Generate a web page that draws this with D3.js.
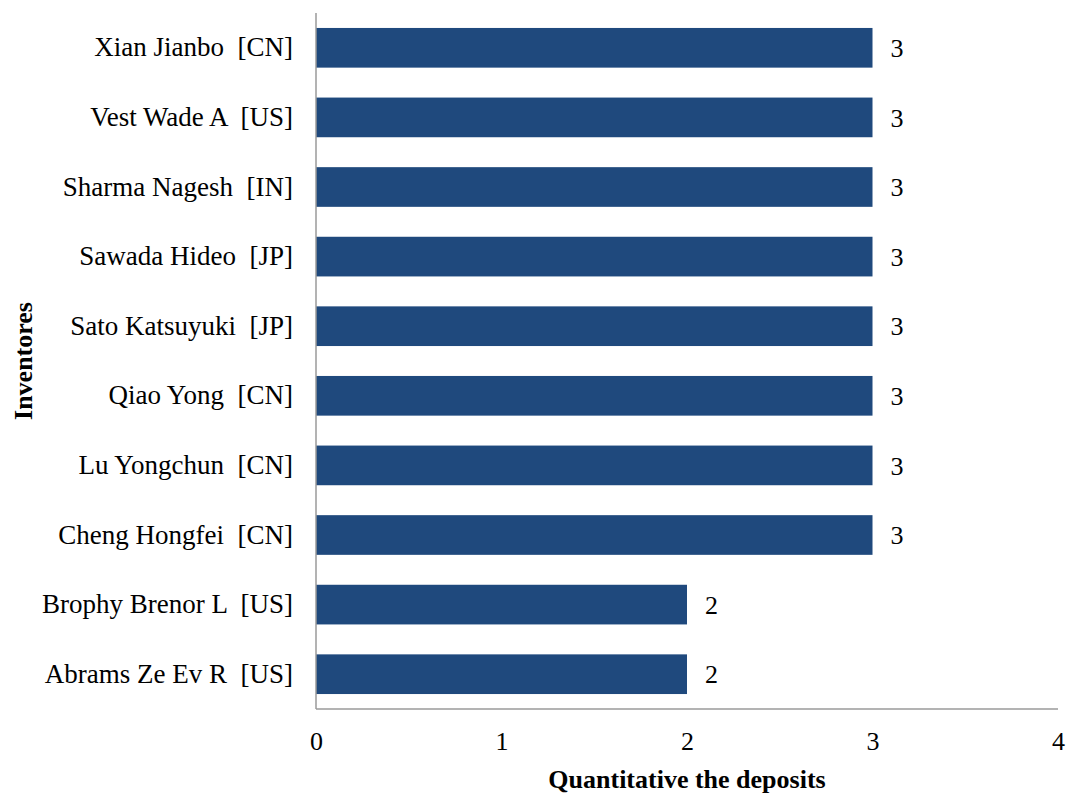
<!DOCTYPE html>
<html>
<head>
<meta charset="utf-8">
<script src="https://cdn.jsdelivr.net/npm/d3@7"></script>
<style>
  html, body { margin: 0; padding: 0; background: #fff; }
  svg text { font-family: "Liberation Serif", "Times New Roman", serif; fill: #000; white-space: pre; }
</style>
</head>
<body>
<svg id="chart" width="1068" height="794"></svg>
<script>
// Inventors, listed bottom to top as they appear on the axis
const inventors = [
  "Abrams Ze Ev R  [US]",
  "Brophy Brenor L  [US]",
  "Cheng Hongfei  [CN]",
  "Lu Yongchun  [CN]",
  "Qiao Yong  [CN]",
  "Sato Katsuyuki  [JP]",
  "Sawada Hideo  [JP]",
  "Sharma Nagesh  [IN]",
  "Vest Wade A  [US]",
  "Xian Jianbo  [CN]"
];
const deposits = [2, 2, 3, 3, 3, 3, 3, 3, 3, 3];
const xTicks = [0, 1, 2, 3, 4];

const svg = d3.select("#chart");
const plot = { left: 316, right: 1058, top: 13, bottom: 709 };
const serif = '"Liberation Serif", "Times New Roman", serif';
const fontSize = 26;

const x = d3.scaleLinear().domain([0, 4]).range([plot.left, plot.right]);
const y = d3.scaleBand()
  .domain(inventors.slice().reverse())
  .range([plot.top, plot.bottom])
  .paddingInner(0.43)
  .paddingOuter(0.215);

const data = inventors.map((name, i) => ({ name, value: deposits[i] }));

// Bars
svg.append("g").selectAll("rect")
  .data(data)
  .join("rect")
  .attr("x", x(0))
  .attr("y", d => y(d.name))
  .attr("width", d => x(d.value) - x(0))
  .attr("height", y.bandwidth())
  .attr("fill", "#1F497D");

// Value labels
svg.append("g").selectAll("text")
  .data(data)
  .join("text")
  .attr("x", d => x(d.value) + 18)
  .attr("y", d => y(d.name) + y.bandwidth() / 2)
  .attr("dy", "0.35em")
  .attr("font-size", fontSize)
  .text(d => d.value);

// Category axis
const yAxis = svg.append("g")
  .attr("transform", `translate(${plot.left},0)`)
  .call(d3.axisLeft(y).tickSize(0).tickPadding(23));
yAxis.select(".domain").remove();
yAxis.selectAll("text").attr("font-size", 27)
  .style("font-family", serif).style("white-space", "pre");

// Value axis
const xAxis = svg.append("g")
  .attr("transform", `translate(0,${plot.bottom})`)
  .call(d3.axisBottom(x).tickValues(xTicks).tickFormat(d3.format("d")).tickSize(0).tickPadding(23));
xAxis.select(".domain").remove();
xAxis.selectAll("text").attr("font-size", fontSize)
  .style("font-family", serif);

// Axis lines
svg.append("line")
  .attr("x1", plot.left).attr("x2", plot.left).attr("y1", plot.top).attr("y2", plot.bottom)
  .attr("stroke", "#9a9a9a").attr("stroke-width", 1.5);
svg.append("line")
  .attr("x1", plot.left).attr("x2", plot.right).attr("y1", plot.bottom).attr("y2", plot.bottom)
  .attr("stroke", "#9a9a9a").attr("stroke-width", 1.5);

// Axis titles
svg.append("text")
  .attr("x", (plot.left + plot.right) / 2)
  .attr("y", 788)
  .attr("text-anchor", "middle")
  .attr("font-size", 26)
  .attr("font-weight", "bold")
  .text("Quantitative the deposits");

svg.append("text")
  .attr("transform", `translate(32,${(plot.top + plot.bottom) / 2}) rotate(-90)`)
  .attr("text-anchor", "middle")
  .attr("font-size", 26)
  .attr("font-weight", "bold")
  .text("Inventores");
</script>
</body>
</html>
